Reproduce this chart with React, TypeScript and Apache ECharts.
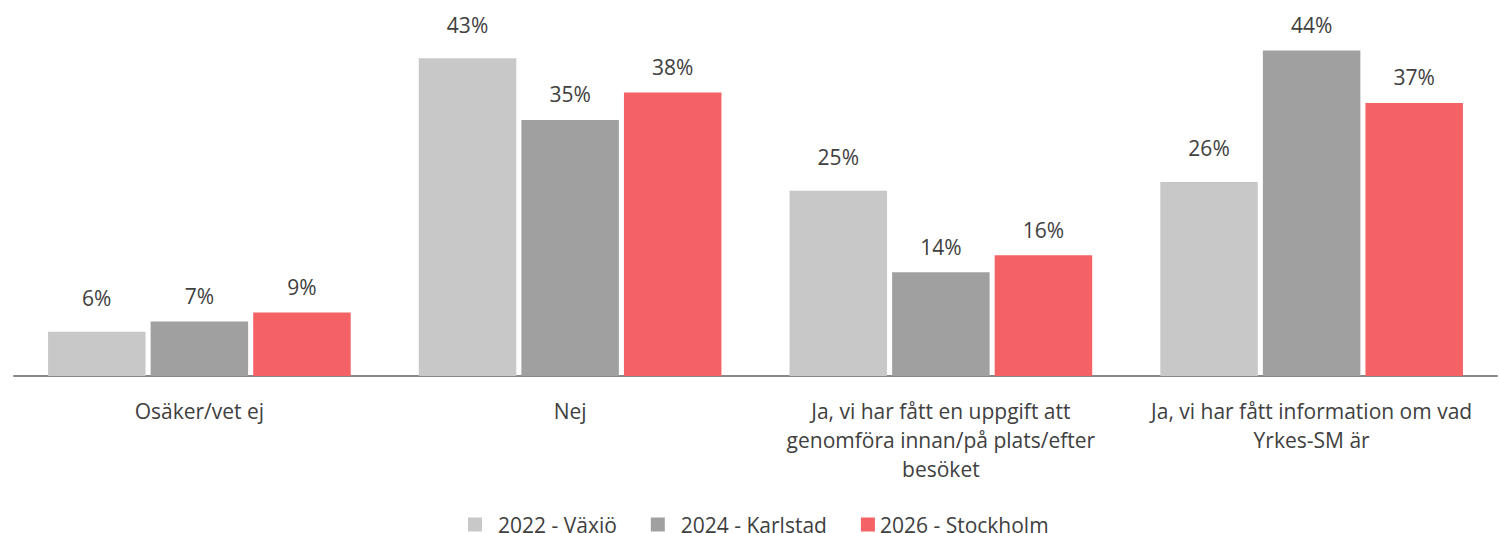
import React, { useEffect, useRef } from "react";
import * as echarts from "echarts";

const categories = [
  "Osäker/vet ej",
  "Nej",
  "Ja, vi har fått en uppgift att\ngenomföra innan/på plats/efter\nbesöket",
  "Ja, vi har fått information om vad\nYrkes-SM är",
];
const seriesNames = ["2022 - Växjö", "2024 - Karlstad", "2026 - Stockholm"];
const values2022 = [6.0, 43.05, 25.1, 26.3];
const values2024 = [7.4, 34.7, 14.05, 44.1];
const values2026 = [8.6, 38.4, 16.35, 37.0];
const colors = ["#C8C8C8", "#A0A0A0", "#F46265"];

const FONT = "'Open Sans', sans-serif";

export default function App() {
  const ref = useRef<HTMLDivElement>(null);
  useEffect(() => {
    document.body.style.margin = "0";
    if (!ref.current) return;
    const chart = echarts.init(ref.current, null, { renderer: "svg" });
    const data = [values2022, values2024, values2026];
    const textPads = [11, 11, 0];
    const labelDist = [21.5, 13.5, 13.5];
    chart.setOption({
      animation: false,
      textStyle: { fontFamily: FONT },
      grid: { left: 14, right: 2, top: 7, bottom: 157, containLabel: false },
      legend: {
        top: 514,
        left: 468,
        padding: 0,
        itemWidth: 14,
        itemHeight: 14,
        itemGap: 34,
        icon: "rect",
        textStyle: { fontSize: 21, lineHeight: 18, color: "#404040", fontFamily: FONT },
        data: seriesNames.map((n, i) => ({
          name: n,
          textStyle: { padding: [0, 0, 0, textPads[i]] },
        })),
      },
      xAxis: {
        type: "category",
        data: categories,
        axisLine: { show: true, lineStyle: { color: "#898989", width: 2 } },
        axisTick: { show: false },
        axisLabel: {
          interval: 0,
          margin: 20,
          fontSize: 21,
          lineHeight: 29,
          color: "#404040",
          fontFamily: FONT,
        },
      },
      yAxis: {
        type: "value",
        min: 0,
        max: 50,
        show: false,
        splitLine: { show: false },
      },
      series: seriesNames.map((name, i) => ({
        name,
        type: "bar",
        data: data[i],
        barWidth: 97.5,
        barGap: "5.2%",
        itemStyle: { color: colors[i] },
        label: {
          show: true,
          position: "top",
          distance: labelDist[i],
          fontSize: 21,
          lineHeight: 24,
          color: "#404040",
          fontFamily: FONT,
          formatter: (p: any) => Math.round(p.value) + "%",
        },
      })),
    });
    return () => chart.dispose();
  }, []);
  return <div ref={ref} style={{ width: 1499, height: 533 }} />;
}
